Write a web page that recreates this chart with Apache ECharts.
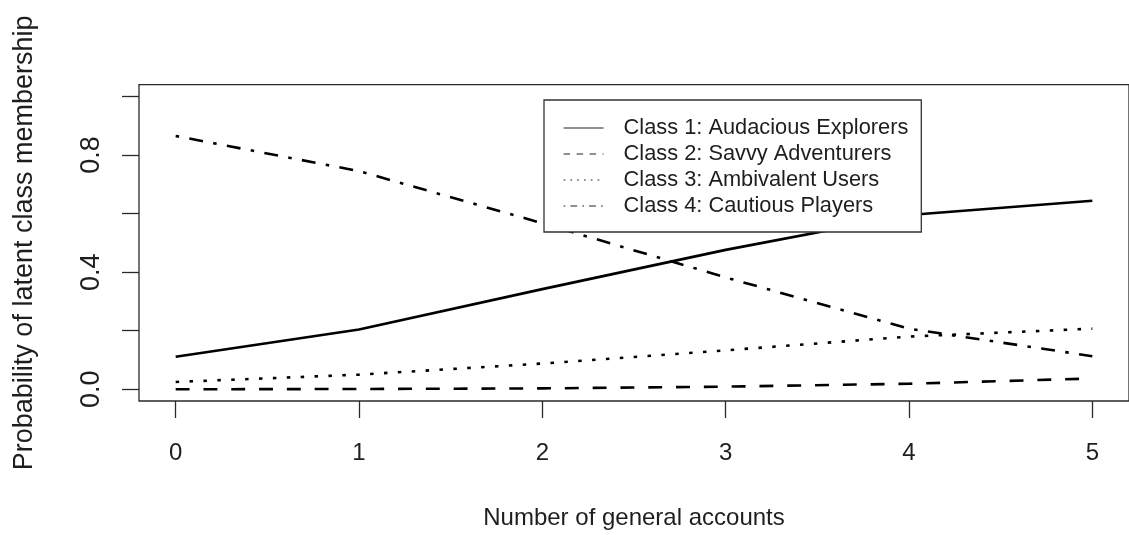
<!DOCTYPE html>
<html>
<head>
<meta charset="utf-8">
<script src="https://cdn.jsdelivr.net/npm/echarts@6/dist/echarts.min.js"></script>
<style>
  html, body { margin: 0; padding: 0; background: #fff; }
  #chart { width: 1129px; height: 535px; }
</style>
</head>
<body>
<div id="chart"></div>
<script>
// Number of general accounts (x) and predicted class-membership probabilities
const accounts = [0, 1, 2, 3, 4, 5];
const class1 = [0.111, 0.204, 0.342, 0.476, 0.595, 0.644];
const class2 = [0.000, 0.001, 0.003, 0.009, 0.019, 0.037];
const class3 = [0.025, 0.050, 0.088, 0.133, 0.180, 0.207];
const class4 = [0.865, 0.745, 0.567, 0.382, 0.207, 0.113];

const classNames = [
  'Class 1: Audacious Explorers',
  'Class 2: Savvy Adventurers',
  'Class 3: Ambivalent Users',
  'Class 4: Cautious Players'
];
const xTicks = [0, 1, 2, 3, 4, 5];
const yTicks = [0, 0.2, 0.4, 0.6, 0.8, 1.0];
const yLabels = [0, 0.4, 0.8];

const FONT = '"Liberation Sans", Arial, Helvetica, sans-serif';
const INK = '#1e1e1e';

// dash patterns in the style of R's lty 1..4
const plotDash = ['solid', [13.9, 13.9], [3.5, 10.4], [3.5, 10.4, 13.9, 10.4]];
const keyDash = ['solid', [6.5, 6.5], [1.7, 5.1], [1.7, 5.1, 6.8, 5.1]];

const seriesValues = [class1, class2, class3, class4];

const chart = echarts.init(document.getElementById('chart'), null, { renderer: 'canvas' });

chart.setOption({
  animation: false,
  backgroundColor: '#fff',
  grid: {
    left: 139, top: 84.7, width: 995, height: 318.6,
    show: true, borderColor: '#2a2a2a', borderWidth: 1.3,
    backgroundColor: 'transparent', containLabel: false
  },
  xAxis: {
    type: 'value', min: -0.2, max: 5.2,
    name: 'Number of general accounts',
    nameLocation: 'middle', nameGap: 105,
    nameTextStyle: { fontFamily: FONT, fontSize: 24, color: INK },
    axisLine: { show: false, onZero: false },
    splitLine: { show: false },
    axisTick: { show: true, length: 17, customValues: xTicks,
      lineStyle: { color: '#2a2a2a', width: 1.3 } },
    axisLabel: { customValues: xTicks, margin: 40, fontFamily: FONT,
      fontSize: 24, color: INK, formatter: v => String(v) }
  },
  yAxis: {
    type: 'value', min: -0.04, max: 1.04,
    name: 'Probability of latent class membership',
    nameLocation: 'middle', nameGap: 101, nameRotate: 90,
    nameTextStyle: { fontFamily: FONT, fontSize: 27, color: INK },
    axisLine: { show: false, onZero: false },
    splitLine: { show: false },
    axisTick: { show: true, length: 17, customValues: yTicks,
      lineStyle: { color: '#2a2a2a', width: 1.3 } },
    axisLabel: { customValues: yLabels, rotate: 90, margin: 34,
      fontFamily: FONT, fontSize: 27, color: INK,
      formatter: v => v.toFixed(1) }
  },
  legend: {
    show: true,
    orient: 'vertical', left: 544, top: 100,
    padding: [17, 13, 15, 19],
    backgroundColor: '#fff', borderColor: '#333', borderWidth: 1.3,
    itemWidth: 40, itemHeight: 14, itemGap: 4,
    z: 10,
    selectedMode: false,
    textStyle: { fontFamily: FONT, fontSize: 21.8, lineHeight: 22, color: INK,
      padding: [0, 0, 0, 15] },
    data: classNames.map((n, i) => ({
      name: n,
      itemStyle: { opacity: 0 },
      lineStyle: { color: '#222', width: 1.2, type: keyDash[i], opacity: 1 }
    }))
  },
  series: seriesValues.map((vals, i) => ({
    name: classNames[i],
    type: 'line',
    data: accounts.map((x, k) => [x, vals[k]]),
    symbol: 'none',
    smooth: false,
    z: 2,
    color: '#000',
    lineStyle: { color: '#000', width: 2.6, type: plotDash[i], cap: 'butt' }
  }))
});
</script>
</body>
</html>
